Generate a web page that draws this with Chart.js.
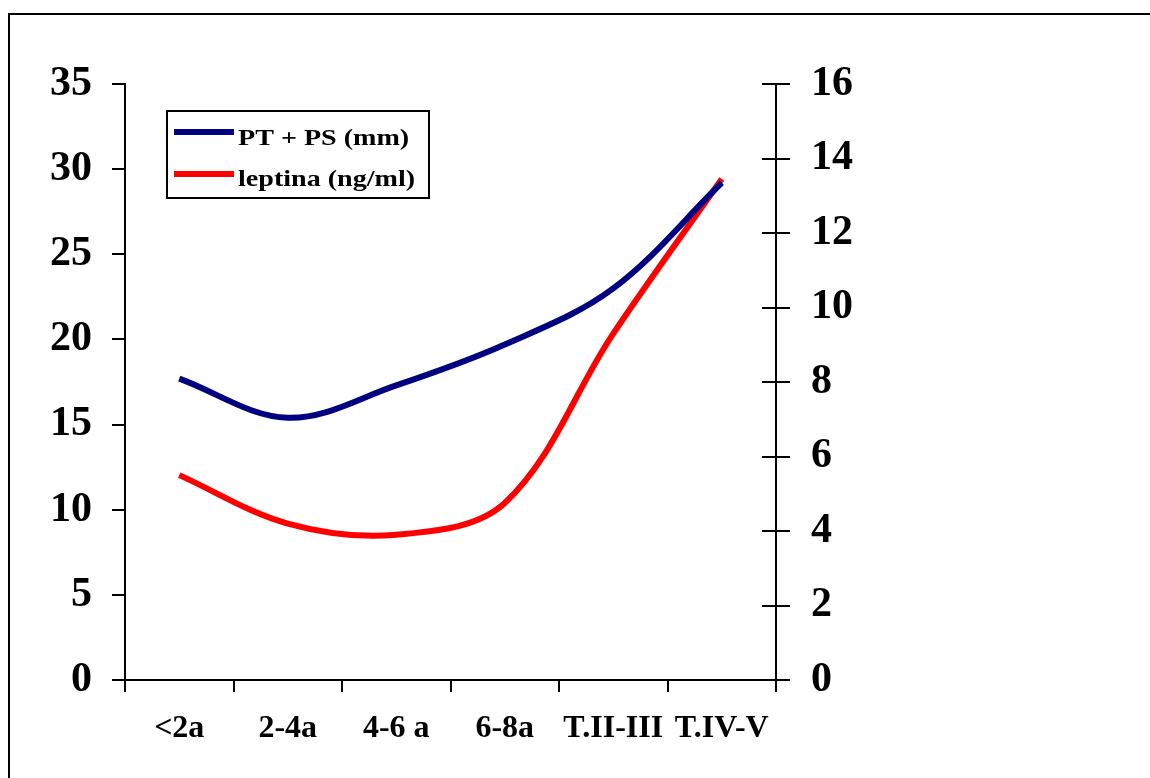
<!DOCTYPE html>
<html>
<head>
<meta charset="utf-8">
<script src="https://cdn.jsdelivr.net/npm/chart.js@4/dist/chart.umd.min.js"></script>
<style>
  html, body { margin: 0; padding: 0; background: #fff; overflow: hidden; }
  #wrap { width: 1150px; height: 778px; position: relative; }
</style>
</head>
<body>
<div id="wrap"><canvas id="chart" width="1150" height="778"></canvas></div>
<script>
const labels = ['<2a', '2-4a', '4-6 a', '6-8a', 'T.II-III', 'T.IV-V'];
const ptps = [17.7, 15.4, 17.3, 19.7, 23.0, 29.2];
const leptina = [5.5, 4.2, 3.9, 4.75, 9.3, 13.45];
const leftTicks = [0, 5, 10, 15, 20, 25, 30, 35];
const rightTicks = [0, 2, 4, 6, 8, 10, 12, 14, 16];

const FONT = '"Liberation Serif", "Times New Roman", serif';

// frame around the picture + legend box + inner half of right-axis ticks
const extras = {
    id: 'extras',
    afterDraw(chart) {
        const c = chart.ctx;
        c.save();
        c.strokeStyle = '#000';
        c.lineWidth = 2;
        c.strokeRect(9, 14, 1300, 900);

        // right axis ticks cross the axis line
        const y1 = chart.scales.y1;
        c.beginPath();
        y1.ticks.forEach(t => {
            const py = Math.round(y1.getPixelForValue(t.value));
            c.moveTo(y1.left - 14, py);
            c.lineTo(y1.left, py);
        });
        c.stroke();

        // legend
        c.lineWidth = 2;
        c.strokeRect(167, 111, 262, 87);
        const lines = [132, 174];
        const bases = [145, 186];
        chart.data.datasets.forEach((ds, i) => {
            c.strokeStyle = ds.borderColor;
            c.lineWidth = 6;
            c.beginPath();
            c.moveTo(174, lines[i]);
            c.lineTo(234, lines[i]);
            c.stroke();
            c.save();
            c.translate(238, bases[i]);
            c.scale(1.17, 1);
            c.font = 'bold 24px ' + FONT;
            c.textBaseline = 'alphabetic';
            c.fillStyle = '#000';
            c.fillText(ds.label, 0, 0);
            c.restore();
        });
        c.restore();
    }
};

function draw() {
    new Chart(document.getElementById('chart'), {
        type: 'line',
        data: {
            labels: labels,
            datasets: [
                {
                    label: 'PT + PS (mm)',
                    data: ptps,
                    yAxisID: 'y',
                    borderColor: '#000080',
                    borderWidth: 6,
                    pointRadius: 0,
                    tension: 0.35,
                    fill: false
                },
                {
                    label: 'leptina (ng/ml)',
                    data: leptina,
                    yAxisID: 'y1',
                    borderColor: '#ff0000',
                    borderWidth: 6,
                    pointRadius: 0,
                    tension: 0.35,
                    fill: false
                }
            ]
        },
        options: {
            responsive: false,
            animation: false,
            layout: { padding: { left: 0, top: 84, right: 224, bottom: 0 } },
            plugins: {
                legend: { display: false },
                tooltip: { enabled: false }
            },
            scales: {
                x: {
                    offset: true,
                    grid: {
                        offset: true,
                        drawOnChartArea: false,
                        color: '#000',
                        lineWidth: 2,
                        tickLength: 12
                    },
                    border: { color: '#000', width: 2 },
                    ticks: {
                        color: '#000',
                        padding: 18,
                        maxRotation: 0,
                        autoSkip: false,
                        font: { family: FONT, size: 32, weight: 'bold' }
                    },
                    afterFit(s) { s.height = 98; }
                },
                y: {
                    position: 'left',
                    min: 0,
                    max: 35,
                    afterBuildTicks(s) { s.ticks = leftTicks.map(v => ({ value: v })); },
                    grid: {
                        drawOnChartArea: false,
                        color: '#000',
                        lineWidth: 2,
                        tickLength: 13
                    },
                    border: { color: '#000', width: 2 },
                    ticks: {
                        color: '#000',
                        padding: 20,
                        font: { family: FONT, size: 42, weight: 'bold' }
                    },
                    afterFit(s) { s.width = 125; }
                },
                y1: {
                    position: 'right',
                    min: 0,
                    max: 16,
                    afterBuildTicks(s) { s.ticks = rightTicks.map(v => ({ value: v })); },
                    grid: {
                        drawOnChartArea: false,
                        color: '#000',
                        lineWidth: 2,
                        tickLength: 14
                    },
                    border: { color: '#000', width: 2 },
                    ticks: {
                        color: '#000',
                        padding: 21,
                        font: { family: FONT, size: 42, weight: 'bold' }
                    },
                    afterFit(s) { s.width = 150; }
                }
            }
        },
        plugins: [extras]
    });
}

// make sure the serif face is ready before the canvas paints text
Promise.all([
    document.fonts.load('bold 42px "Liberation Serif"'),
    document.fonts.load('bold 24px "Liberation Serif"')
]).then(draw, draw);
</script>
</body>
</html>
